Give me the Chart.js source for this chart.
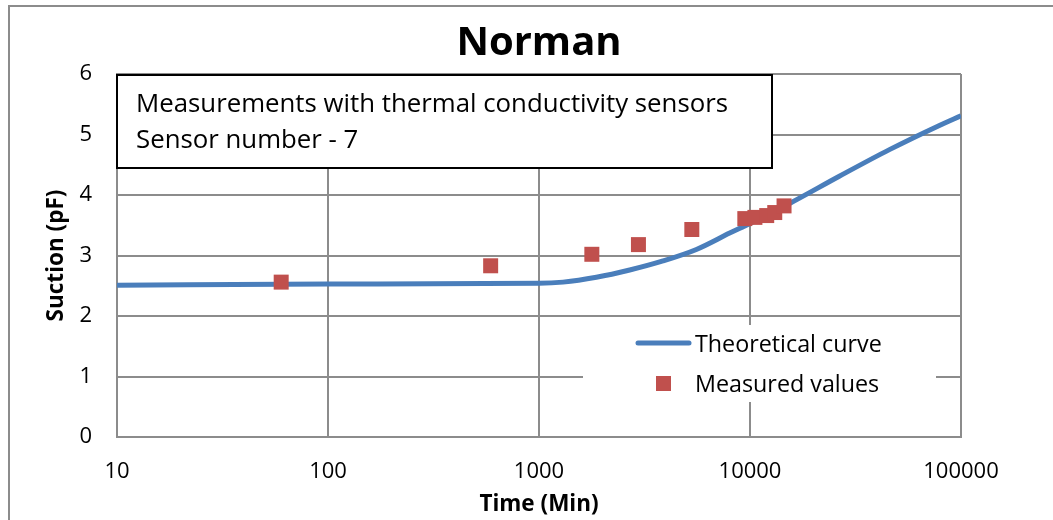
<!DOCTYPE html>
<html>
<head>
<meta charset="utf-8">
<script src="https://cdn.jsdelivr.net/npm/chart.js@4.4.1/dist/chart.umd.min.js"></script>
<style>
  body { margin: 0; background: #fff; }
</style>
</head>
<body>
<canvas id="canvas" width="1053" height="520"></canvas>
<script>
// data
const curveTime = [10, 100, 1000, 1300, 1870, 2690, 3870, 5570, 8010, 10000, 15400, 26500, 45800, 79000, 100000];
const curveSuction = [2.51, 2.53, 2.54, 2.56, 2.64, 2.76, 2.91, 3.10, 3.37, 3.53, 3.86, 4.31, 4.75, 5.15, 5.31];
const measTime = [60, 590, 1780, 2960, 5300, 9450, 10550, 12000, 13100, 14500];
const measSuction = [2.56, 2.83, 3.02, 3.18, 3.43, 3.61, 3.63, 3.66, 3.71, 3.82];
const xTicks = [10, 100, 1000, 10000, 100000];
const boxLines = ['Measurements with thermal conductivity sensors', 'Sensor number - 7'];

const FONT = '"Open Sans", Calibri, sans-serif';
const gridGray = '#8c8c8c';

function toPoints(xs, ys) {
  return xs.map((x, i) => ({x: x, y: ys[i]}));
}

// grey frame round the whole chart, title centred over the plot
const framePlugin = {
  id: 'frame',
  afterLayout(chart) {
    chart.titleBlock.left = chart.chartArea.left;
    chart.titleBlock.right = chart.chartArea.right;
  },
  beforeDraw(chart) {
    const c = chart.ctx;
    c.save();
    c.fillStyle = '#fff';
    c.fillRect(0, 0, chart.width, chart.height);
    c.strokeStyle = '#8c8c8c';
    c.lineWidth = 2;
    c.strokeRect(9, 6, chart.width + 20, chart.height + 20);
    c.restore();
  }
};

// text box top left + legend box bottom right
const boxesPlugin = {
  id: 'boxes',
  afterDatasetsDraw(chart) {
    const c = chart.ctx;
    const a = chart.chartArea;
    c.save();
    // annotation box
    c.fillStyle = '#fff';
    c.fillRect(a.left, a.top + 1, 655, 93);
    c.strokeStyle = '#000';
    c.lineWidth = 2;
    c.strokeRect(a.left, a.top + 1, 655, 93);
    c.fillStyle = '#000';
    c.font = '25.8px ' + FONT;
    c.textBaseline = 'alphabetic';
    c.fillText(boxLines[0], a.left + 19, a.top + 38);
    c.fillText(boxLines[1], a.left + 19, a.top + 74);

    // legend
    c.fillStyle = '#fff';
    c.fillRect(583, 325, 353, 77);
    const line = chart.data.datasets[0];
    const pts = chart.data.datasets[1];
    c.strokeStyle = line.borderColor;
    c.lineWidth = 5;
    c.lineCap = 'round';
    c.beginPath();
    c.moveTo(638, 343);
    c.lineTo(689, 343);
    c.stroke();
    c.fillStyle = pts.backgroundColor;
    c.fillRect(656, 376, 15, 15);
    c.fillStyle = '#000';
    c.font = '23.3px ' + FONT;
    c.textBaseline = 'middle';
    c.fillText(line.label, 695, 345);
    c.fillText(pts.label, 695, 385);
    c.restore();
  }
};

new Chart(document.getElementById('canvas'), {
  type: 'scatter',
  data: {
    datasets: [{
      label: 'Theoretical curve',
      type: 'line',
      data: toPoints(curveTime, curveSuction),
      borderColor: '#4a7ebb',
      borderWidth: 5,
      pointRadius: 0,
      cubicInterpolationMode: 'monotone',
      fill: false,
      order: 2
    }, {
      label: 'Measured values',
      data: toPoints(measTime, measSuction),
      backgroundColor: '#c0504d',
      borderColor: '#c0504d',
      borderWidth: 0,
      pointStyle: 'rect',
      pointRadius: 10.6,
      order: 1
    }]
  },
  options: {
    responsive: false,
    animation: false,
    layout: {padding: {left: 0, right: 92, top: 0, bottom: 0}},
    plugins: {
      legend: {display: false},
      tooltip: {enabled: false},
      title: {
        display: true,
        text: 'Norman',
        color: '#000',
        font: {family: FONT, size: 40, weight: 'bold', lineHeight: 1.2},
        padding: {top: 20, bottom: 6}
      }
    },
    scales: {
      x: {
        type: 'logarithmic',
        min: 10,
        max: 100000,
        afterBuildTicks: s => { s.ticks = xTicks.map(v => ({value: v, major: true})); },
        afterFit: s => { s.height = 83; },
        border: {color: gridGray, width: 2},
        grid: {color: gridGray, lineWidth: 2, drawTicks: false},
        ticks: {
          color: '#000',
          padding: 22,
          maxRotation: 0,
          autoSkip: false,
          font: {family: FONT, size: 22},
          callback: v => String(v)
        },
        title: {
          display: true,
          text: 'Time (Min)',
          color: '#000',
          font: {family: FONT, size: 22.5, weight: 'bold'},
          padding: {top: 0, bottom: 1.5}
        }
      },
      y: {
        min: 0,
        max: 6,
        afterFit: s => { s.width = 117; },
        border: {color: gridGray, width: 2},
        grid: {color: gridGray, lineWidth: 2, drawTicks: false},
        ticks: {
          color: '#000',
          padding: 25,
          stepSize: 1,
          font: {family: FONT, size: 22}
        },
        title: {
          display: true,
          text: 'Suction (pF)',
          color: '#000',
          font: {family: FONT, size: 22.5, weight: 'bold'},
          padding: {top: 43.5, bottom: 0}
        }
      }
    }
  },
  plugins: [framePlugin, boxesPlugin]
});
</script>
</body>
</html>
